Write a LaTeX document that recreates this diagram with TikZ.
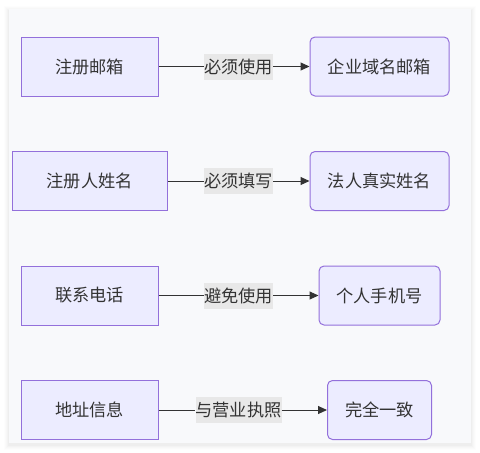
\documentclass[tikz,border=0pt]{standalone}
\usepackage{fontspec}
\setmainfont{Noto Sans CJK SC}
\usetikzlibrary{arrows.meta}
\definecolor{nodefill}{HTML}{ECECFF}
\definecolor{nodeline}{HTML}{9370DB}
\definecolor{txt}{HTML}{333333}
\definecolor{panel}{HTML}{F8F9FB}
\definecolor{lblbg}{HTML}{E8E8E8}
\tikzset{
  sqbox/.style={draw=nodeline, fill=nodefill, line width=1pt, inner sep=0pt, minimum height=59pt, text=txt, font=\fontsize{17.2}{20}\selectfont},
  rdbox/.style={sqbox, rounded corners=5pt},
  lbl/.style={fill=lblbg, inner xsep=0pt, inner ysep=0pt, minimum height=26pt, text=txt, font=\fontsize{17.2}{20}\selectfont},
  conn/.style={draw=txt, line width=1pt},
  arr/.style={draw=txt, line width=1pt, -{Triangle[length=9pt,width=8pt]}}
}
\begin{document}
\begin{tikzpicture}[x=1pt,y=-1pt]
\useasboundingbox (0,0) rectangle (480,453);
\fill[white] (0,0) rectangle (480,453);
% shadow
\foreach \s/\o in {5/0.008,4/0.01,3/0.012,2/0.015,1/0.02}{
  \fill[black, opacity=\o] (9-\s,9-\s+2) rectangle (471+\s,443+\s+2);
}
\fill[panel] (9,9) rectangle (471,443);

% row 1
\node[sqbox, minimum width=137pt] (a1) at (89.5,66.5) {注册邮箱};
\node[rdbox, minimum width=139pt] (b1) at (379.5,66.5) {企业域名邮箱};
\node[lbl] (l1) at (238.5,66.5) {必须使用};
\draw[conn] (a1.east) -- (l1.west);
\draw[arr] (l1.east) -- (b1.west);

% row 2
\node[sqbox, minimum width=154.5pt] (a2) at (89.75,181) {注册人姓名};
\node[rdbox, minimum width=139pt] (b2) at (379.5,181) {法人真实姓名};
\node[lbl] (l2) at (238.5,181) {必须填写};
\draw[conn] (a2.east) -- (l2.west);
\draw[arr] (l2.east) -- (b2.west);

% row 3
\node[sqbox, minimum width=137pt] (a3) at (89.5,295.5) {联系电话};
\node[rdbox, minimum width=121pt] (b3) at (379.5,295.5) {个人手机号};
\node[lbl] (l3) at (238.5,295.5) {避免使用};
\draw[conn] (a3.east) -- (l3.west);
\draw[arr] (l3.east) -- (b3.west);

% row 4
\node[sqbox, minimum width=137pt] (a4) at (89.5,410) {地址信息};
\node[rdbox, minimum width=104pt] (b4) at (379.5,410) {完全一致};
\node[lbl] (l4) at (238.5,410) {与营业执照};
\draw[conn] (a4.east) -- (l4.west);
\draw[arr] (l4.east) -- (b4.west);
\end{tikzpicture}
\end{document}
